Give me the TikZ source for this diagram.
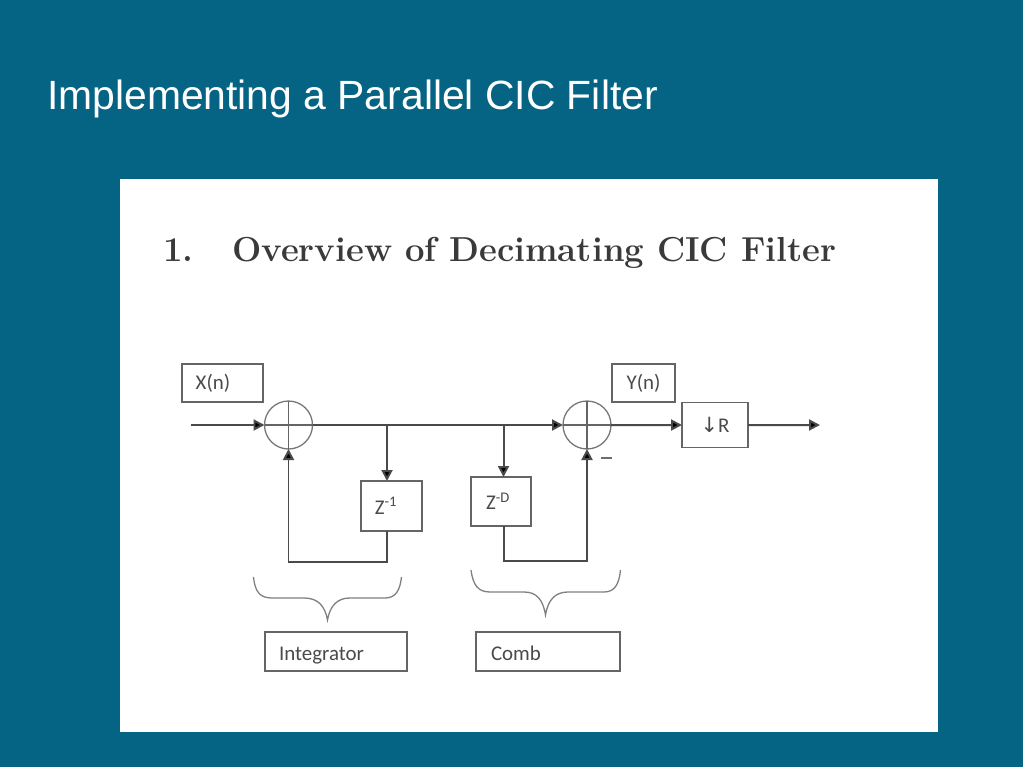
\documentclass[tikz,border=0pt]{standalone}
\usepackage{fontspec}
\newfontfamily\labelfont{Carlito}
\newfontfamily\titlefont{Liberation Sans}
\newfontfamily\arrowfont{DejaVu Sans}
\usetikzlibrary{arrows.meta}
\definecolor{slidebg}{HTML}{056383}
\definecolor{ink}{HTML}{4A4A4A}
\definecolor{heading}{HTML}{3A3A3A}
\tikzset{
  x=1bp,y=-1bp,
  blockbox/.style={draw=ink!85,line width=1.4pt,inner sep=0pt,outer sep=0pt,anchor=north west,text=ink,font=\labelfont\fontsize{21}{24}\selectfont},
  sumnode/.style={draw=ink!75,line width=1.3pt,circle,minimum size=48bp,inner sep=0pt,outer sep=0pt},
  crossline/.style={draw=ink!85,line width=1.6pt},
  wire/.style={draw=ink,line width=2pt},
  arrowwire/.style={wire,-{Triangle[length=11bp,width=11bp,fill=black]}},
  bracepath/.style={draw=ink!70,line width=1.3pt},
  headtext/.style={anchor=base west,inner sep=0pt,text=heading,font=\normalfont\bfseries\fontsize{34.8}{38}\selectfont},
}
\begin{document}
\begin{tikzpicture}
\useasboundingbox (0,0) rectangle (1023,767);
\fill[slidebg] (0,0) rectangle (1023,767);
\fill[white] (120,179) rectangle (938,732);
\node[anchor=base west,inner sep=0pt,text=white,font=\titlefont\fontsize{41}{44}\selectfont] (title) at (47,109) {Implementing a Parallel CIC Filter};
\node[headtext] (num) at (163,261) {1.};
\node[headtext] (head) at (232,261) {Overview of Decimating CIC Filter};

\node[blockbox,minimum width=81bp,minimum height=38bp] (xn) at (182,364) {\hspace*{-19bp}X(n)};
\node[blockbox,minimum width=63bp,minimum height=38bp] (yn) at (612,364) {Y(n)};
\node[blockbox,minimum width=66bp,minimum height=45bp] (dec) at (682,402.5) {{\arrowfont↓}R};
\node[blockbox,minimum width=61bp,minimum height=50bp] (zi) at (361,481) {\hspace*{-11bp}Z\textsuperscript{-1}};
\node[blockbox,minimum width=60bp,minimum height=49bp] (zd) at (471,477) {\hspace*{-6bp}Z\textsuperscript{-D}};
\node[blockbox,minimum width=142bp,minimum height=39bp] (integ) at (265,632) {\hspace*{-29bp}\raisebox{-8.5bp}[0pt][0pt]{Integrator}};
\node[blockbox,minimum width=144bp,minimum height=39bp] (comb) at (476,632) {\hspace*{-64bp}\raisebox{-8.5bp}[0pt][0pt]{Comb}};

\node[sumnode] (s1) at (288.5,425) {};
\node[sumnode] (s2) at (587,425) {};
\draw[crossline] (s1.west) -- (s1.east);
\draw[crossline] (s1.north) -- (s1.south);
\draw[crossline] (s2.west) -- (s2.east);
\draw[crossline] (s2.north) -- (s2.south);

\coordinate (in) at (191,425);
\coordinate (out) at (820,425);
\coordinate (b1) at (387,425);
\coordinate (b2) at (503.5,425);
\coordinate (c1) at (387,562);
\coordinate (c2) at (288.5,562);
\coordinate (c3) at (503.5,561);
\coordinate (c4) at (587,561);

\draw[arrowwire] (in) -- (s1.west);
\draw[arrowwire] (s1.east) -- (s2.west);
\draw[arrowwire] (s2.east) -- (dec.west);
\draw[arrowwire] (dec.east) -- (out);
\draw[arrowwire] (b1) -- (zi.north -| b1);
\draw[arrowwire] (b2) -- (zd.north -| b2);
\draw[arrowwire] (zi.south -| c1) -- (c1) -- (c2) -- (s1.south);
\draw[arrowwire] (zd.south -| c3) -- (c3) -- (c4) -- (s2.south);
\node[inner sep=0pt,fill=ink!80,minimum width=11bp,minimum height=1.5bp] (minus) at (606,458) {};

\draw[bracepath] (253.5,577) .. controls (255,592) and (260,598) .. (272,598)
  -- (304,598) .. controls (318,598) and (325,606) .. (327.5,620)
  .. controls (330,606) and (337,598) .. (350,598)
  -- (385,598) .. controls (396,598) and (400,590) .. (401.5,577);
\draw[bracepath] (471,570) .. controls (473,585) and (478,592) .. (490,592)
  -- (524,592) .. controls (537,592) and (543,600) .. (545.5,615)
  .. controls (548,600) and (555,592) .. (568,592)
  -- (604,592) .. controls (615,592) and (619,584) .. (620.5,570);
\end{tikzpicture}
\end{document}
